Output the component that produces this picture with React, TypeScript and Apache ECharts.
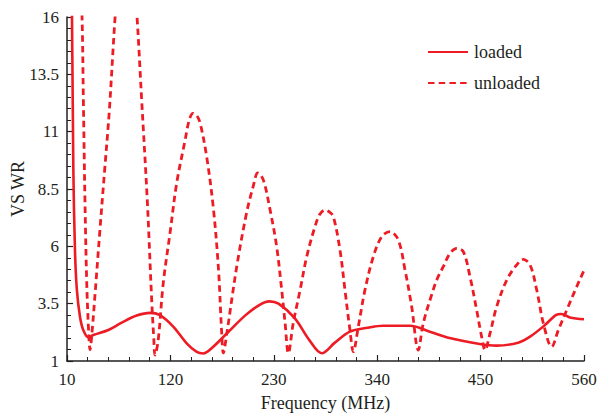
import React, { useEffect, useRef } from "react";
import * as echarts from "echarts";

const xTicks = [10, 120, 230, 340, 450, 560];
const yTicks = [1, 3.5, 6, 8.5, 11, 13.5, 16];

const loadedFreq = [14, 15.3, 16.7, 18.5, 20.5, 23.8, 27.3, 32.7, 38, 54, 68.2, 84.1, 98.3, 108.9, 123, 137.3, 148, 155, 165, 180, 200, 215, 225, 235, 252, 268, 281, 295, 311, 330, 346, 375, 396, 417, 449, 467, 490, 502.6, 518.5, 530, 536, 545, 560];
const loadedVswr = [18, 16, 9.5, 5.8, 4.1, 2.93, 2.35, 2.03, 2.13, 2.35, 2.67, 2.98, 3.1, 3.0, 2.5, 1.77, 1.4, 1.33, 1.6, 2.2, 3.0, 3.45, 3.6, 3.5, 2.88, 1.9, 1.34, 1.8, 2.28, 2.45, 2.54, 2.54, 2.28, 2.0, 1.74, 1.67, 1.8, 2.06, 2.57, 3.0, 3.05, 2.9, 2.82];

const unloadedFreq = [18, 22, 26, 27.4, 29.1, 31, 33, 34.5, 36.5, 40, 45, 50, 55, 61, 66, 73, 79, 84.5, 89.4, 95.4, 100.1, 102.3, 103.6, 107, 112.4, 119.6, 126.7, 135.5, 140, 144, 148, 151.5, 158.6, 165.6, 171, 174.6, 176.3, 180, 190.5, 201, 208, 213, 218.8, 226, 233, 238.4, 242, 245.5, 250.7, 258, 265, 273.8, 279, 284.5, 289, 293.3, 300.4, 305.7, 311, 314.6, 319.9, 327, 335.9, 344.8, 353.6, 362.4, 369.6, 376.7, 383.7, 389, 398, 404, 410.3, 417.4, 424.6, 431.6, 438.7, 445.8, 451.1, 454.7, 460, 467.1, 477.8, 488.4, 495.4, 502.6, 509.7, 516.8, 525.6, 532.7, 541.6, 552.2, 560];
const unloadedVswr = [25, 20.5, 16, 12.4, 8.0, 4.4, 2.3, 1.5, 2.2, 4.0, 6.7, 9.3, 11.9, 15.9, 18.6, 20, 19, 16, 12.4, 8.0, 3.66, 2.0, 1.26, 1.9, 4.4, 6.58, 8.76, 10.6, 11.5, 11.8, 11.7, 11.4, 9.9, 7.7, 5.1, 2.2, 1.35, 2.2, 5.1, 7.45, 8.6, 9.2, 8.9, 7.6, 6.0, 4.1, 2.66, 1.34, 2.66, 4.1, 5.55, 6.86, 7.4, 7.58, 7.5, 7.3, 5.84, 4.1, 2.35, 1.41, 2.5, 4.1, 5.55, 6.42, 6.64, 6.28, 4.97, 3.37, 1.48, 2.64, 3.9, 4.6, 5.11, 5.69, 5.91, 5.77, 4.68, 3.22, 2.06, 1.48, 2.2, 3.37, 4.53, 5.19, 5.43, 5.19, 4.1, 2.64, 1.62, 2.35, 3.22, 4.24, 4.95];

const RED = "#ed1c24";
const FONT = "Liberation Serif";
const TXT = "#231f20";

export default function App() {
  const ref = useRef<HTMLDivElement>(null);
  useEffect(() => {
    const chart = echarts.init(ref.current!, null, { renderer: "svg" });
    const pairs = (xs: number[], ys: number[]) => xs.map((x, i) => [x, ys[i]]);
    chart.setOption({
      animation: false,
      textStyle: { fontFamily: FONT, color: TXT },
      grid: { left: 67, right: 16, top: 17, bottom: 58, outerBoundsMode: "none", containLabel: false },
      legend: {
        orient: "vertical",
        left: 427,
        top: 43,
        itemWidth: 40,
        itemHeight: 14,
        itemGap: 13,
        padding: 0,
        itemStyle: { opacity: 0 },
        textStyle: { fontFamily: FONT, fontSize: 18, color: TXT, padding: [0, 0, 0, 1] },
        data: ["loaded", "unloaded"],
      },
      xAxis: {
        type: "value",
        min: xTicks[0],
        max: xTicks[xTicks.length - 1],
        interval: 110,
        name: "Frequency (MHz)",
        nameLocation: "middle",
        nameGap: 33,
        nameMoveOverlap: false,
        nameTextStyle: { fontFamily: FONT, fontSize: 18, color: TXT },
        axisLine: { lineStyle: { color: "#231f20", width: 1.5 } },
        axisTick: { inside: true, length: 6, lineStyle: { color: "#231f20", width: 1.2 } },
        minorTick: { show: true, splitNumber: 5, length: 4, lineStyle: { color: "#231f20", width: 1 } },
        axisLabel: { fontFamily: FONT, fontSize: 17, color: TXT, margin: 10, showMinLabel: true, showMaxLabel: true },
        splitLine: { show: false },
      },
      yAxis: {
        type: "value",
        min: yTicks[0],
        max: yTicks[yTicks.length - 1],
        interval: 2.5,
        name: "VS WR",
        nameLocation: "middle",
        nameRotate: 90,
        nameGap: 40,
        nameMoveOverlap: false,
        nameTextStyle: { fontFamily: FONT, fontSize: 18, color: TXT },
        axisLine: { show: true, lineStyle: { color: "#231f20", width: 1.5 } },
        axisTick: { show: true, inside: true, length: 6, lineStyle: { color: "#231f20", width: 1.2 } },
        minorTick: { show: true, splitNumber: 5, length: 4, lineStyle: { color: "#231f20", width: 1 } },
        axisLabel: { fontFamily: FONT, fontSize: 17, color: TXT, margin: 8 },
        splitLine: { show: false },
      },
      series: [
        {
          name: "loaded",
          type: "line",
          data: pairs(loadedFreq, loadedVswr),
          symbol: "none",
          smooth: 0.35,
          clip: true,
          lineStyle: { color: RED, width: 2.6, type: "solid" },
          itemStyle: { color: RED },
        },
        {
          name: "unloaded",
          type: "line",
          data: pairs(unloadedFreq, unloadedVswr),
          symbol: "none",
          smooth: 0.35,
          clip: true,
          lineStyle: { color: RED, width: 2.8, type: [6.5, 4.2] },
          itemStyle: { color: RED },
        },
      ],
    });
    return () => chart.dispose();
  }, []);
  return <div ref={ref} style={{ width: 600, height: 419, position: "absolute", left: 0, top: 0 }} />;
}
